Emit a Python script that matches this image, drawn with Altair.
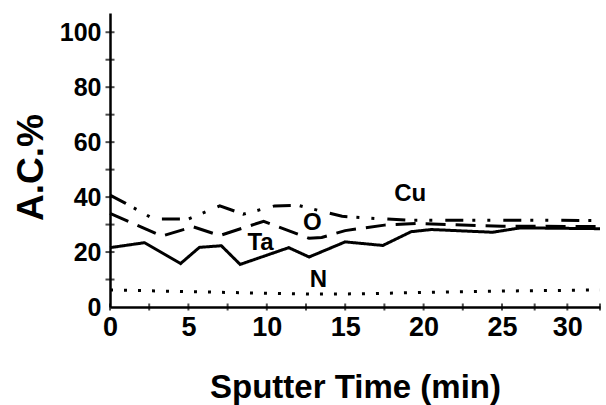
import altair as alt
import pandas as pd

# Depth profile: atomic concentration (%) against sputter time (min)
ta_time = [0, 2.2, 4.5, 5.7, 7.1, 8.3, 11.4, 12.7, 15.0, 17.4, 19.2, 20.5, 24.4, 26.4, 32.5]
ta_conc = [21.6, 23.4, 15.8, 21.7, 22.3, 15.5, 21.6, 18.2, 23.7, 22.4, 27.4, 28.2, 27.2, 28.8, 28.5]

o_time = [0, 3.3, 5.3, 7.0, 9.8, 12.7, 13.5, 15.0, 17.5, 19.5, 25.0, 32.5]
o_conc = [34.1, 25.8, 29.2, 26.0, 31.2, 25.0, 25.3, 27.8, 29.8, 30.4, 29.4, 29.3]

cu_time = [0, 1.0, 2.8, 5.0, 7.0, 8.5, 10.5, 12.0, 14.8, 17.0, 19.0, 25.0, 32.5]
cu_conc = [40.7, 37.7, 32.0, 32.0, 36.8, 33.8, 36.8, 37.0, 33.0, 32.2, 31.6, 31.6, 31.5]

n_time = [0, 5, 10, 13, 16, 20, 25, 32.5]
n_conc = [6.2, 5.6, 5.0, 4.7, 4.8, 5.3, 5.8, 6.2]

# In-plot element labels
label_text = ["Cu", "O", "Ta", "N"]
label_time = [19.15, 12.9, 9.6, 13.3]
label_conc = [41.3, 30.4, 23.2, 9.8]

x_label_values = [0, 5, 10, 15, 20, 25, 30]
x_tick_values = [0, 2.5, 5, 7.5, 10, 12.5, 15, 17.5, 20, 22.5, 25, 27.5, 30, 32.5]
y_label_values = [0, 20, 40, 60, 80, 100]
y_tick_values = [10, 20, 30, 40, 50, 60, 70, 80, 90, 100]

FONT = "Liberation Sans"

rows = []
for name, ts, vs in [("Ta", ta_time, ta_conc), ("O", o_time, o_conc),
                     ("Cu", cu_time, cu_conc), ("N", n_time, n_conc)]:
    for t, v in zip(ts, vs):
        rows.append({"element": name, "time": t, "conc": v})
lines_df = pd.DataFrame(rows)

labels_df = pd.DataFrame({"label": label_text, "time": label_time, "conc": label_conc})
xt_df = pd.DataFrame({"time": x_tick_values})
yt_df = pd.DataFrame({"conc": y_tick_values})

x_scale = alt.Scale(domain=[0, 25, 32.5], range=[0, 392, 490], nice=False, zero=False)
y_scale = alt.Scale(domain=[0, 107], nice=False)

lines = alt.Chart(lines_df).mark_line(color="black", strokeWidth=3, strokeCap="butt").encode(
    x=alt.X("time:Q", scale=x_scale,
            axis=alt.Axis(values=x_label_values, ticks=False, tickSize=0, grid=False,
                          domainColor="black", domainWidth=2.5,
                          labelFont=FONT, labelFontSize=27, labelFontWeight="bold",
                          labelColor="black", labelPadding=7, labelFlush=False,
                          title="Sputter Time (min)", titleFont=FONT, titleFontSize=33,
                          titleFontWeight="bold", titleColor="black",
                          titleBaseline="alphabetic", titleY=90)),
    y=alt.Y("conc:Q", scale=y_scale,
            axis=alt.Axis(values=y_label_values, ticks=False, tickSize=0, grid=False,
                          domainColor="black", domainWidth=2.5,
                          labelFont=FONT, labelFontSize=25, labelFontWeight="bold",
                          labelColor="black", labelPadding=9, labelFlush=False,
                          title="A.C.%", titleFont=FONT, titleFontSize=37,
                          titleFontWeight="bold", titleColor="black",
                          titleAngle=-90, titleAlign="center",
                          titleBaseline="alphabetic", titleX=-68, titleY=154)),
    strokeDash=alt.StrokeDash("element:N", legend=None,
                              scale=alt.Scale(domain=["Ta", "O", "Cu", "N"],
                                              range=[[1, 0], [20, 10], [18, 9, 3, 12, 3, 13], [3, 11]])),
    detail="element:N",
)

labels = alt.Chart(labels_df).mark_text(font=FONT, fontSize=24, fontWeight="bold",
                                        color="black", baseline="middle", align="center").encode(
    x=alt.X("time:Q", scale=x_scale),
    y=alt.Y("conc:Q", scale=y_scale),
    text="label:N",
)

x_ticks = alt.Chart(xt_df).mark_tick(orient="vertical", size=7, thickness=2, color="black").encode(
    x=alt.X("time:Q", scale=x_scale),
    y=alt.datum(0),
)

y_ticks = alt.Chart(yt_df).mark_tick(orient="horizontal", size=9, thickness=2, color="black").encode(
    x=alt.datum(0),
    y=alt.Y("conc:Q", scale=y_scale),
)

chart = alt.layer(lines, labels, x_ticks, y_ticks).properties(
    width=490,
    height=294,
    autosize=alt.AutoSizeParams(type="none"),
    padding={"left": 110, "top": 13, "right": 6, "bottom": 98},
    background="white",
).configure_view(stroke=None)

chart.save("out.html", embed_options={"renderer": "svg", "actions": False})
